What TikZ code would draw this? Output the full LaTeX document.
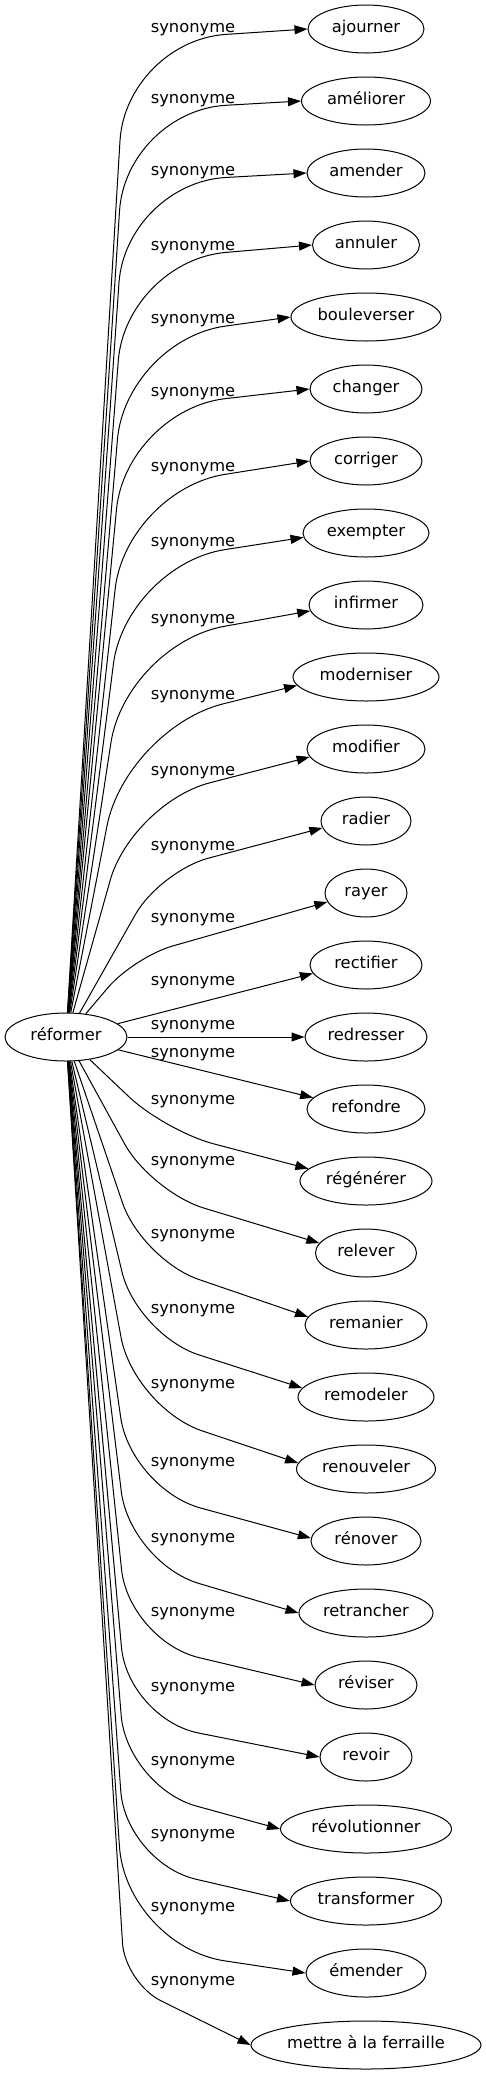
\documentclass[tikz,border=0pt]{standalone}
\usepackage{fontspec}
\setmainfont{DejaVu Sans}
\usetikzlibrary{shapes.geometric,arrows.meta}
\newcommand{\gvfont}{\fontsize{16.3pt}{19pt}\selectfont}
\tikzset{
  term/.style={ellipse, draw, line width=1pt, inner sep=0pt, minimum height=48pt,
    font=\gvfont, text height=11.4pt, text depth=4pt},
  lab/.style={inner sep=0pt, font=\gvfont, text height=11.4pt, text depth=4pt},
  edge/.style={draw, line width=1pt, -{Triangle[length=13pt, width=9pt]}}
}
\begin{document}
\begin{tikzpicture}[x=1pt, y=-1pt]
\fill[white] (0,0) rectangle (486,2075);
\useasboundingbox (0,0) rectangle (486,2075);

\node[term, minimum width=122pt] (ref) at (66,1037) {réformer};

\foreach \k/\txt/\w in {0/ajourner/116, 1/améliorer/129, 2/amender/118, 3/annuler/107,
  4/bouleverser/150, 5/changer/112, 6/corriger/112, 7/exempter/126, 8/infirmer/114,
  9/moderniser/146, 10/modifier/118, 11/radier/90, 12/rayer/82, 13/rectifier/112,
  14/redresser/122, 15/refondre/118, 16/régénérer/132, 17/relever/101, 18/remanier/122,
  19/remodeler/136, 20/renouveler/139, 21/rénover/110, 22/retrancher/134, 23/réviser/102,
  24/revoir/92, 25/révolutionner/171, 26/transformer/151, 27/émender/120,
  28/mettre à la ferraille/230}
  {\node[term, minimum width=\w pt] (t\k) at (366,{29+72*\k}) {\txt};}

\foreach \k/\ly in {0/29, 1/100, 2/172, 3/247, 4/320, 5/393, 6/468, 7/543, 8/620, 9/696,
  10/772, 11/847, 12/919, 13/982, 14/1026, 15/1054, 16/1101, 17/1162, 18/1235, 19/1310,
  20/1385, 21/1463, 22/1539, 23/1613, 24/1688, 25/1762, 26/1835, 27/1908, 28/1982}
  {\node[lab] (l\k) at (193,\ly) {synonyme};}

% curved connectors (corner point, corner rounding, end anchor)
\foreach \k/\kx/\ky/\r/\a in {0/126/41/100/180, 1/126/111/100/180, 2/126/183/100/180,
  3/126/261/100/180, 4/126/340/100/180, 5/126/410/100/180, 6/126/490/100/180,
  7/126/565/100/184, 8/126/644/100/186, 9/126/728/100/187, 10/132/803/80/188,
  11/160/871/50/189, 12/134/957/40/193,
  16/165/1131/50/168, 17/151/1192/55/168, 18/142/1260/60/172, 19/137/1335/65/172,
  20/134/1408/72/175, 21/131/1489/72/177, 22/130/1563/72/180, 23/129/1641/72/180,
  24/128/1719/72/180, 25/127/1787/72/180, 26/126/1863/72/180, 27/126/1946/100/180,
  28/125/1983/40/180}
  {\coordinate (c\k) at (\kx,\ky);
   \draw[edge, rounded corners=\r pt] (ref) -- (c\k) -- (t\k.\a);}

% straight connectors
\draw[edge] (ref) -- (t13.189);
\draw[edge] (ref) -- (t14);
\draw[edge] (ref) -- (t15.168);
\end{tikzpicture}
\end{document}
